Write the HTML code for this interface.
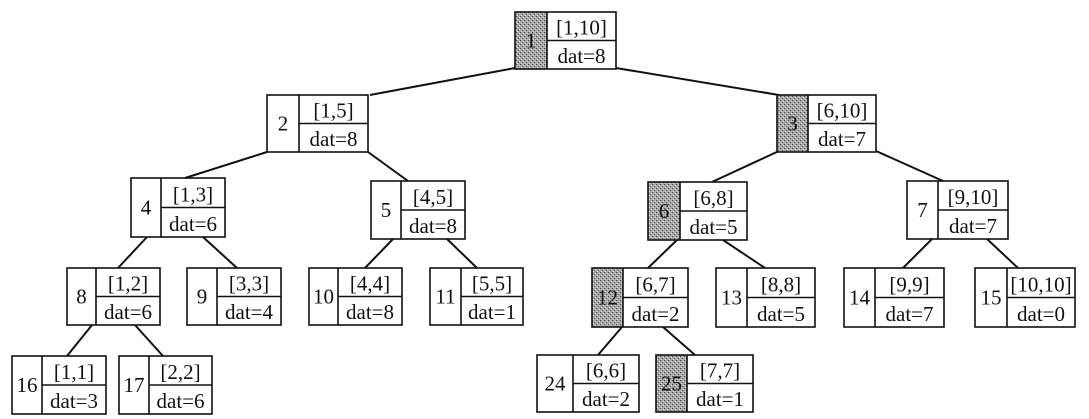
<!DOCTYPE html>
<html><head><meta charset="utf-8"><style>body{margin:0;background:#fff}svg{display:block}text{font-family:"Liberation Serif",serif;font-size:21px;fill:#111}</style></head><body>
<svg width="1089" height="419" viewBox="0 0 1089 419">
<defs><pattern id="p" width="4" height="4" patternUnits="userSpaceOnUse"><rect width="4" height="4" fill="#a8a8a8"/><rect x="0" y="0" width="1" height="1" fill="#444"/><rect x="2" y="2" width="1" height="1" fill="#555"/><rect x="3" y="1" width="1" height="1" fill="#ddd"/><rect x="1" y="3" width="1" height="1" fill="#ddd"/></pattern></defs>
<g stroke="#111" stroke-width="2" fill="none">
<line x1="515" y1="68" x2="370" y2="95"/><line x1="616" y1="68" x2="779" y2="95"/>
<line x1="267" y1="152" x2="185" y2="178"/><line x1="368" y1="152" x2="408" y2="181"/>
<line x1="779" y1="151" x2="712" y2="182"/><line x1="876" y1="151" x2="943" y2="181"/>
<line x1="147" y1="237" x2="118" y2="268"/><line x1="203" y1="237" x2="237" y2="268"/>
<line x1="393" y1="239" x2="365" y2="268"/><line x1="447" y1="239" x2="477" y2="268"/>
<line x1="677" y1="240" x2="648" y2="268"/><line x1="723" y1="240" x2="765" y2="268"/>
<line x1="932" y1="239" x2="903" y2="268"/><line x1="987" y1="239" x2="1018" y2="268"/>
<line x1="92" y1="325" x2="67" y2="356"/><line x1="135" y1="325" x2="163" y2="356"/>
<line x1="622" y1="327" x2="598" y2="355"/><line x1="663" y1="327" x2="695" y2="355"/>
</g>
<g id="nodes"></g>
</svg>
<script>
var N=[["1",515,12,616,69,547,"[1,10]","dat=8",1],["2",267,95,368,152,299,"[1,5]","dat=8",0],["3",777,95,876,152,808,"[6,10]","dat=7",1],
["4",131,178,225,237,161,"[1,3]","dat=6",0],["5",371,181,465,239,401,"[4,5]","dat=8",0],["6",648,182,747,240,680,"[6,8]","dat=5",1],["7",907,181,1008,239,938,"[9,10]","dat=7",0],
["8",67,268,160,325,96,"[1,2]","dat=6",0],["9",187,268,281,325,217,"[3,3]","dat=4",0],["10",309,268,402,325,338,"[4,4]","dat=8",0],["11",430,268,523,325,461,"[5,5]","dat=1",0],
["12",592,268,688,327,623,"[6,7]","dat=2",1],["13",716,268,815,327,747,"[8,8]","dat=5",0],["14",844,268,944,327,875,"[9,9]","dat=7",0],["15",975,268,1075,327,1007,"[10,10]","dat=0",0],
["16",12,356,106,414,42,"[1,1]","dat=3",0],["17",119,356,212,414,149,"[2,2]","dat=6",0],["24",537,355,639,412,573,"[6,6]","dat=2",0],["25",656,355,753,412,687,"[7,7]","dat=1",1]];
var s="";N.forEach(function(n){var x1=n[1],y1=n[2],x2=n[3],y2=n[4],d=n[5],m=(y1+y2)/2;
if(n[8])s+='<rect x="'+x1+'" y="'+y1+'" width="'+(d-x1)+'" height="'+(y2-y1)+'" fill="url(#p)"/>';
s+='<rect x="'+x1+'" y="'+y1+'" width="'+(x2-x1)+'" height="'+(y2-y1)+'" fill="none" stroke="#111" stroke-width="1.6"/>';
s+='<line x1="'+d+'" y1="'+y1+'" x2="'+d+'" y2="'+y2+'" stroke="#111" stroke-width="1.6"/><line x1="'+d+'" y1="'+m+'" x2="'+x2+'" y2="'+m+'" stroke="#111" stroke-width="1.6"/>';
s+='<text x="'+((x1+d)/2)+'" y="'+(m+7)+'" text-anchor="middle">'+n[0]+'</text>';
s+='<text x="'+((d+x2)/2)+'" y="'+(m-6)+'" text-anchor="middle">'+n[6]+'</text>';
s+='<text x="'+((d+x2)/2)+'" y="'+(y2-6)+'" text-anchor="middle">'+n[7]+'</text>';});
document.getElementById("nodes").innerHTML=s;
</script>
</body></html>
